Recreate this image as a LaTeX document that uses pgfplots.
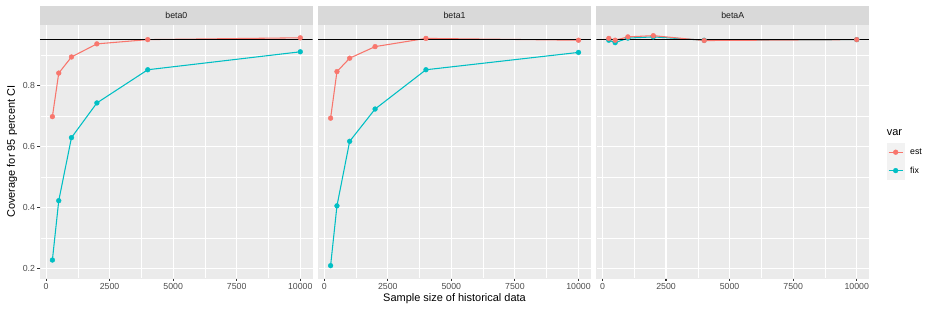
\documentclass[border=0pt]{standalone}
\usepackage{fontspec}
\setmainfont{Liberation Sans}
\usepackage{pgfplots}
\usepackage{pgfplotstable}
\pgfplotsset{compat=1.18}
\definecolor{estc}{HTML}{F8766D}
\definecolor{fixc}{HTML}{00BFC4}
\definecolor{panelbg}{HTML}{EBEBEB}
\definecolor{stripbg}{HTML}{D9D9D9}
\definecolor{gray30}{HTML}{4D4D4D}
\definecolor{gray20}{HTML}{333333}
\definecolor{gray10}{HTML}{1A1A1A}
\definecolor{keybg}{HTML}{F2F2F2}

\pgfplotstableread{
n     b0est b0fix  b1est b1fix  baest bafix
250   0.698 0.227  0.693 0.2085 0.955 0.949
500   0.841 0.422  0.846 0.405  0.949 0.941
1000  0.894 0.629  0.890 0.617  0.960 0.956
2000  0.937 0.743  0.928 0.723  0.964 0.960
4000  0.951 0.852  0.955 0.852  0.948 0.949
10000 0.957 0.911  0.949 0.909  0.951 0.951
}\datatable

\pgfplotsset{
  facet/.style={
    scale only axis, width=272.7bp, height=253bp,
    xmin=-237.5, xmax=10487.5, ymin=0.168, ymax=0.999,
    axis background/.style={fill=panelbg, draw=none},
    axis x line*=bottom, axis y line*=left,
    axis line style={-, draw=panelbg, line width=0.05bp},
    scaled x ticks=false, scaled y ticks=false,
    xtick={0,2500,5000,7500,10000},
    xticklabels={0,2500,5000,7500,10000},
    ytick={0.2,0.4,0.6,0.8},
    yticklabels={0.2,0.4,0.6,0.8},
    minor xtick={1250,3750,6250,8750},
    minor ytick={0.3,0.5,0.7,0.9},
    grid=both,
    major grid style={draw=white, line width=1.07bp},
    minor grid style={draw=white, line width=0.53bp},
    tick align=outside,
    major tick length=2.75bp,
    minor tick length=0pt,
    every tick/.style={draw=gray20, line width=1.07bp},
    every tick label/.append style={font=\fontsize{8.8}{10}\selectfont, text=gray30, inner sep=0pt, outer sep=0pt},
    xticklabel style={yshift=-2.2bp},
    yticklabel style={xshift=-2.2bp},
    clip=true,
  },
  lin/.style={line width=1.07bp, no markers},
  pts/.style={only marks, mark=*, mark size=2.4bp},
}

\begin{document}
\begin{tikzpicture}
\useasboundingbox (0,0) rectangle (931bp,312bp);

% panel 1
\begin{axis}[facet, name=ax1, at={(40bp,34bp)}, anchor=south west]
\addplot[lin, fixc] table[x=n, y=b0fix] {\datatable};
\addplot[lin, estc] table[x=n, y=b0est] {\datatable};
\addplot[black, line width=1.07bp, no markers] coordinates {(-237.5,0.95) (10487.5,0.95)};
\addplot[pts, fixc] table[x=n, y=b0fix] {\datatable};
\addplot[pts, estc] table[x=n, y=b0est] {\datatable};
\end{axis}

% panel 2
\begin{axis}[facet, name=ax2, at={(318.2bp,34bp)}, anchor=south west, yticklabels={}, y tick style={draw=none}]
\addplot[lin, fixc] table[x=n, y=b1fix] {\datatable};
\addplot[lin, estc] table[x=n, y=b1est] {\datatable};
\addplot[black, line width=1.07bp, no markers] coordinates {(-237.5,0.95) (10487.5,0.95)};
\addplot[pts, fixc] table[x=n, y=b1fix] {\datatable};
\addplot[pts, estc] table[x=n, y=b1est] {\datatable};
\end{axis}

% panel 3
\begin{axis}[facet, name=ax3, at={(596.4bp,34bp)}, anchor=south west, yticklabels={}, y tick style={draw=none},
  legend style={at={(1.0645,0.5336)}, anchor=north west, draw=none, fill=none, inner sep=0pt, outer sep=0pt,
    row sep=0pt, column sep=5.5bp, font=\fontsize{8.8}{10}\selectfont, nodes={inner sep=0pt},
    cells={anchor=west}},
  legend cell align=left,
  legend image code/.code={
    \fill[keybg] (0bp,-9bp) rectangle (17.6bp,9bp);
    \draw[#1, line width=1.07bp] (1.76bp,0bp) -- (15.84bp,0bp);
    \fill[#1] (8.8bp,0bp) circle (2.4bp);
  }]
\addplot[lin, fixc, forget plot] table[x=n, y=bafix] {\datatable};
\addplot[lin, estc, forget plot] table[x=n, y=baest] {\datatable};
\addplot[black, line width=1.07bp, no markers, forget plot] coordinates {(-237.5,0.95) (10487.5,0.95)};
\addplot[pts, fixc, forget plot] table[x=n, y=bafix] {\datatable};
\addplot[pts, estc, forget plot] table[x=n, y=baest] {\datatable};
\addlegendimage{estc}
\addlegendentry{est}
\addlegendimage{fixc}
\addlegendentry{fix}
\end{axis}

% strips
\foreach \a/\t in {ax1/beta0, ax2/beta1, ax3/betaA}{
  \fill[stripbg] (\a.north west) rectangle ([yshift=19bp]\a.north east);
  \node[text=gray10, font=\fontsize{8.8}{10}\selectfont, inner sep=0pt] at ([yshift=9.5bp]\a.north) {\t};
}

% axis titles
\node[font=\fontsize{11}{13}\selectfont, inner sep=0pt] at (454.5bp,13.5bp) {Sample size of historical data};
\node[font=\fontsize{11}{13}\selectfont, inner sep=0pt, rotate=90] at (12bp,160.5bp) {Coverage for 95 percent CI};
\node[font=\fontsize{11}{13}\selectfont, inner sep=0pt, anchor=west] at (886.7bp,179bp) {var};
\end{tikzpicture}
\end{document}
